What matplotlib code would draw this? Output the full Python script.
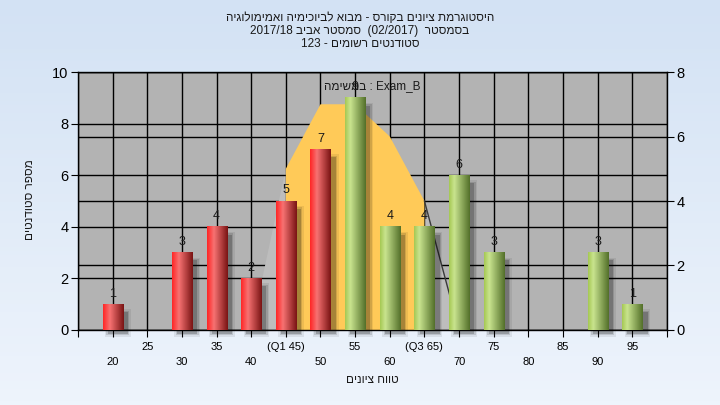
import re
import numpy as np
import matplotlib
matplotlib.use("Agg")
import matplotlib.pyplot as plt
from matplotlib.colors import LinearSegmentedColormap
from matplotlib.patches import Rectangle, Polygon

# -----------------------------
# Data
# -----------------------------
grades = [20, 25, 30, 35, 40, 45, 50, 55, 60, 65, 70, 75, 80, 85, 90, 95]
counts = [1, 0, 3, 4, 2, 5, 7, 9, 4, 4, 6, 3, 0, 0, 3, 1]
tick_labels = ["20", "25", "30", "35", "40", "(Q1 45)", "50", "55",
               "60", "(Q3 65)", "70", "75", "80", "85", "90", "95"]
red_upto = 50          # bars up to this grade are red
q1, q3 = 45, 65
curve_grades = [40, 45, 50, 55, 60, 65, 70]
curve_vals = [0, 5, 7, 7, 6, 4, 0]   # right axis scale

title_lines = [
    "היסטוגרמת ציונים בקורס - מבוא לביוכימיה ואמימולוגיה",
    "בסמסטר  (02/2017)  סמסטר אביב 2017/18",
    "סטודנטים רשומים - 123",
]
inner_title = "Exam_B : במשימה"
y_label = "מספר סטודנטים"
x_label = "טווח ציונים"

plt.rcParams["font.family"] = ["Liberation Sans", "DejaVu Sans"]


# -----------------------------
# Helper: visual order for Hebrew text (no bidi in matplotlib)
# -----------------------------
def visual(s):
    r = s[::-1]
    r = re.sub(r"[0-9A-Za-z_/.]+", lambda m: m.group(0)[::-1], r)
    return r.translate(str.maketrans("()", ")("))


def pos_of(g):
    return (g - grades[0]) / 5 + 1


fig = plt.figure(figsize=(7.2, 4.05), dpi=100)

# figure background gradient
bg = fig.add_axes([0, 0, 1, 1], zorder=-10)
bg_cmap = LinearSegmentedColormap.from_list("bg", ["#d3e2f4", "#eef4fc"])
bg.imshow(np.linspace(0, 1, 100).reshape(-1, 1), cmap=bg_cmap, aspect="auto",
          extent=[0, 1, 0, 1])
bg.axis("off")

ax = fig.add_axes([0.1083, 0.1852, 0.818, 0.637])
ax2 = ax.twinx()
ax2.set_zorder(1)
ax.set_zorder(2)
ax.patch.set_visible(False)
ax2.patch.set_visible(True)
ax2.patch.set_facecolor("#b3b3b3")

nx = len(grades)
ax.set_xlim(0, nx + 1)
ax.set_ylim(0, 10)
ax2.set_ylim(0, 8)

# grid
ax.set_axisbelow(True)
ax.set_yticks(range(0, 11, 2))
ax2.set_yticks(range(0, 9, 2))
ax.set_xticks(np.arange(0, nx + 2))
ax.grid(True, color="black", lw=1)
ax2.yaxis.grid(True, color="black", lw=1)

# x tick labels, staggered in two rows
labels = [""]
for i, lab in enumerate(tick_labels):
    labels.append(lab if i % 2 == 1 else "\n" + lab)
labels.append("")
ax.set_xticklabels(labels, fontsize=8, linespacing=1.55)
ax.tick_params(axis="x", length=5, pad=4)
ax.tick_params(axis="y", labelsize=10.5, length=5, pad=2)
ax2.tick_params(axis="y", labelsize=10.5, length=5, pad=2)

for sp in ax.spines.values():
    sp.set_color("black")
    sp.set_linewidth(1)
for sp in ax2.spines.values():
    sp.set_visible(False)

# distribution curve (right axis scale)
cp = np.array([pos_of(g) for g in curve_grades])
cv = np.array(curve_vals, dtype=float)
mask = (np.array(curve_grades) >= q1) & (np.array(curve_grades) <= q3)
xs, ys = cp[mask], cv[mask]
verts = [(xs[0], 0)] + list(zip(xs, ys)) + [(xs[-1], 0)]
ax.add_patch(Polygon(verts, closed=True, facecolor="#ffca58", edgecolor="none",
                     transform=ax2.transData, zorder=1.5))
tail_l = [(cp[0], 0), (cp[1], cv[1]), (cp[1], 0)]
tail_r = [(cp[-2], 0), (cp[-2], cv[-2]), (cp[-1], cv[-1])]
for t in (tail_l, tail_r):
    ax.add_patch(Polygon(t, closed=True, facecolor="#bdbdbd", edgecolor="none",
                         transform=ax2.transData, zorder=0.4))
ax.plot(cp[-2:], cv[-2:], color="#3a3a3a", lw=1, transform=ax2.transData, zorder=1.6)

# bars
red_cmap = LinearSegmentedColormap.from_list(
    "red", [(0, "#ff2626"), (0.33, "#f77272"), (1, "#7a1414")])
green_cmap = LinearSegmentedColormap.from_list(
    "green", [(0, "#a5c853"), (0.25, "#c9e48f"), (1, "#53702a")])
grad = np.linspace(0, 1, 64).reshape(1, -1)
w = 0.58

for g, c in zip(grades, counts):
    if c == 0:
        continue
    p = pos_of(g)
    # soft shadow
    for k, a in enumerate([0.2, 0.12, 0.07]):
        gx, gy = 0.04 * k, 0.055 * k
        ax.add_patch(Rectangle((p - w / 2 + 0.15 - gx, -0.15 - gy), w + 2 * gx,
                               c - 0.15 + 2 * gy, facecolor="black", alpha=a,
                               edgecolor="none", zorder=2.5, clip_on=False))
    cmap = red_cmap if g <= red_upto else green_cmap
    ax.imshow(grad, cmap=cmap, extent=[p - w / 2, p + w / 2, 0, c],
              aspect="auto", interpolation="bilinear", zorder=3)
    ax.text(p, c + 0.18, str(c), ha="center", va="bottom", fontsize=9,
            color="#1a1a1a", zorder=4)

ax.set_xlim(0, nx + 1)
ax.set_ylim(0, 10)

ax.text(0.5, 0.946, visual(inner_title), transform=ax.transAxes, ha="center",
        va="center", fontsize=8.5, color="#1a1a1a", zorder=5)

# titles and axis labels
for i, line in enumerate(title_lines):
    fig.text(0.5, 0.955 - i * 0.032, visual(line), ha="center", va="center",
             fontsize=8.5, color="#1a1a1a")
fig.text(0.042, 0.506, visual(y_label), rotation=90, ha="center", va="center",
         fontsize=8.5, color="#1a1a1a")
fig.text(0.517, 0.062, visual(x_label), ha="center", va="center",
         fontsize=8.5, color="#1a1a1a")

fig.savefig("out.png", dpi=100)
